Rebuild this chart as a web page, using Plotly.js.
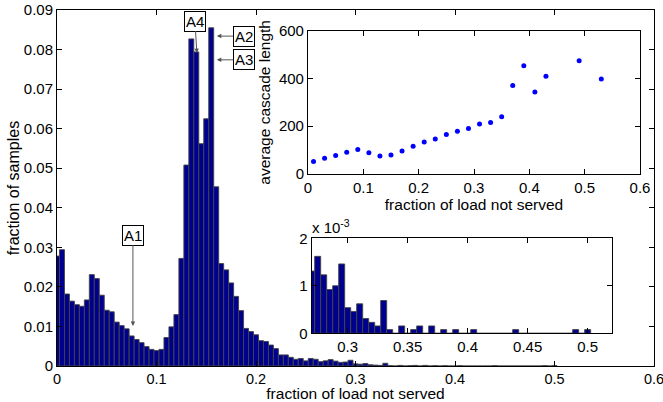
<!DOCTYPE html>
<html>
<head>
<meta charset="utf-8">
<script src="https://cdn.plot.ly/plotly-3.0.1.min.js"></script>
<style>html,body{margin:0;padding:0;background:#fff;}#chart{width:663px;height:402px;}</style>
</head>
<body>
<div id="chart"></div>
<script>
// Histogram bin centres (fraction of load not served)
const binCenters = [
  0.000,0.005,0.010,0.015,0.020,0.025,0.030,0.035,0.040,0.045,
  0.050,0.055,0.060,0.065,0.070,0.075,0.080,0.085,0.090,0.095,
  0.100,0.105,0.110,0.115,0.120,0.125,0.130,0.135,0.140,0.145,
  0.150,0.155,0.160,0.165,0.170,0.175,0.180,0.185,0.190,0.195,
  0.200,0.205,0.210,0.215,0.220,0.225,0.230,0.235,0.240,0.245,
  0.250,0.255,0.260,0.265,0.270,0.275,0.280,0.285,0.290,0.295,
  0.300,0.305,0.310,0.315,0.320,0.325,0.330,0.335,0.340,0.345,
  0.350,0.355,0.360,0.365,0.370,0.375,0.380,0.385,0.390,0.395,
  0.400,0.405,0.410,0.415,0.420,0.425,0.430,0.435,0.440,0.445,
  0.450,0.455,0.460,0.465,0.470,0.475,0.480,0.485,0.490,0.495,
  0.500
];
// Fraction of samples in each bin
const sampleFraction = [
  0.0278,0.0294,0.0182,0.0164,0.0155,0.0151,0.0167,0.0231,0.0221,0.0179,
  0.0141,0.0137,0.0111,0.0102,0.0094,0.0076,0.0067,0.0059,0.0049,0.0042,
  0.0039,0.0042,0.0072,0.0099,0.0130,0.0272,0.0508,0.0827,0.0794,0.0562,
  0.0625,0.0855,0.0453,0.0259,0.0243,0.0210,0.0176,0.0140,0.0095,0.0087,
  0.0079,0.0064,0.0062,0.0053,0.0044,0.0028,0.0028,0.0022,0.0017,0.0019,
  0.0013,0.0019,0.0017,0.0011,0.00131,0.00162,0.00123,0.00092,0.00100,0.00146,
  0.00054,0.00046,0.00062,0.00031,0.00023,0.000155,0.00069,0.000077,0,0.000155,
  0,0.000077,0.000155,0,0.000155,0,0.000077,0,0.000077,0,
  0,0.000077,0,0,0,0,0,0,0.000077,0,
  0,0,0,0,0,0,0,0,0.000077,0,
  0.000077
];
// Inset: average cascade length vs fraction of load not served
const cascadeX = [0.01,0.03,0.05,0.07,0.09,0.11,0.13,0.15,0.17,0.19,0.21,0.23,0.25,0.27,0.29,0.31,0.33,0.35,0.37,0.39,0.41,0.43,0.49,0.53];
const cascadeLen = [52,66,77,91,103,89,75,80,96,116,134,147,165,179,190,209,216,240,371,453,343,409,474,398];

// Annotation labels
const labels = ['A1','A4','A2','A3'];

const barColor = '#00008F';
const FONT = 'Liberation Sans, Arial, Helvetica, sans-serif';

const traces = [
  {type:'bar', x:binCenters, y:sampleFraction, xaxis:'x', yaxis:'y',
   marker:{color:barColor, line:{color:'#444', width:0.9}}, hoverinfo:'skip'},
  {type:'scatter', mode:'markers', x:cascadeX, y:cascadeLen, xaxis:'x2', yaxis:'y2',
   marker:{color:'#0000FF', size:5}, hoverinfo:'skip'},
  {type:'bar', x:binCenters, y:sampleFraction, xaxis:'x3', yaxis:'y3',
   marker:{color:barColor, line:{color:'#444', width:0.9}}, hoverinfo:'skip'}
];

function ax(extra){
  return Object.assign({
    showline:true, mirror:'ticks', linecolor:'#000', linewidth:1,
    ticks:'inside', ticklen:5, tickcolor:'#000', tickwidth:1,
    showgrid:false, zeroline:false, fixedrange:true, ticklabeloverflow:'allow',
    tickfont:{family:FONT, size:15, color:'#000'}
  }, extra);
}

const annFont = {family:FONT, size:15, color:'#000'};
function boxAnn(text, x, y, axp, ayp){
  return {text:text, x:x, y:y, xref:'x', yref:'y', ax:axp, ay:ayp,
    showarrow:true, arrowhead:2, arrowsize:0.9, arrowwidth:1, arrowcolor:'#555',
    font:annFont, bgcolor:'#fff', bordercolor:'#000', borderwidth:1, borderpad:1};
}

const layout = {
  width:663, height:402,
  margin:{l:57, r:9, t:10, b:36},
  paper_bgcolor:'#fff', plot_bgcolor:'#fff',
  font:{family:FONT, size:15, color:'#000'},
  showlegend:false, bargap:0,
  xaxis: ax({range:[0,0.6], tickvals:[0,0.1,0.2,0.3,0.4,0.5,0.6], ticktext:['0','0.1','0.2','0.3','0.4','0.5','0.6'],
    tickfont:{family:FONT, size:14.5, color:'#000'},
    title:{text:'fraction of load not served', font:{family:FONT, size:15.5}, standoff:0}}),
  yaxis: ax({range:[0,0.09], dtick:0.01, tick0:0,
    title:{text:'fraction of samples', font:{family:FONT, size:16}, standoff:0}}),
  xaxis2: ax({domain:[0.4204,0.9766], anchor:'y2', range:[0,0.6], dtick:0.1, tick0:0,
    title:{text:'fraction of load not served', font:{family:FONT, size:15.5}, standoff:0}}),
  yaxis2: ax({domain:[0.5393,0.9419], anchor:'x2', range:[0,600], dtick:200, tick0:0,
    title:{text:'average cascade length', font:{family:FONT, size:15.5}, standoff:4}}),
  xaxis3: ax({domain:[0.4266,0.9291], anchor:'y3', range:[0.27,0.52], dtick:0.05, tick0:0.3}),
  yaxis3: ax({domain:[0.0919,0.3587], anchor:'x3', range:[0,0.002], tickvals:[0,0.001,0.002], ticktext:['0','1','2']}),
  annotations:[
    boxAnn(labels[0], 0.0763, 0.0101, 0, -91),
    boxAnn(labels[1], 0.1406, 0.0791, -2, -32),
    boxAnn(labels[2], 0.1606, 0.0834, 27, 0),
    boxAnn(labels[3], 0.1606, 0.0774, 27, 0),
    {text:'x 10<sup>-3</sup>', xref:'x3 domain', yref:'y3 domain', x:-0.005, y:1.0,
     xanchor:'left', yanchor:'bottom', showarrow:false, font:annFont}
  ]
};

Plotly.newPlot('chart', traces, layout, {staticPlot:true, displayModeBar:false});
</script>
</body>
</html>
